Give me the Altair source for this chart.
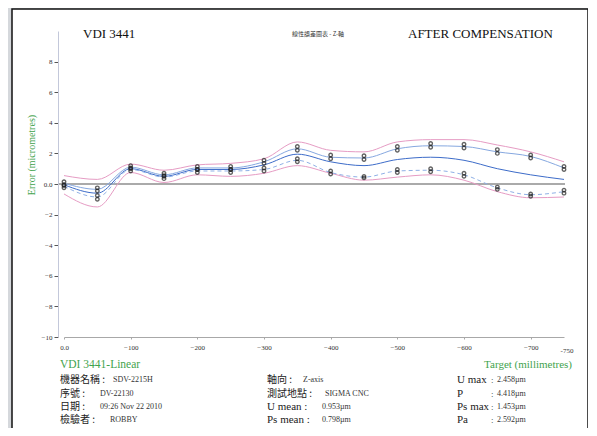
import altair as alt
import pandas as pd

# ---- data ----
positions = [0, -50, -100, -150, -200, -250, -300, -350, -400, -450, -500, -550, -600, -650, -700, -750]
mean_err = [-0.05, -0.6, 1.0, 0.5, 0.95, 0.95, 1.25, 1.95, 1.45, 1.2, 1.6, 1.75, 1.55, 1.0, 0.6, 0.3]
upper_mean = [0.05, -0.35, 1.1, 0.6, 1.05, 1.05, 1.45, 2.3, 1.75, 1.7, 2.3, 2.5, 2.45, 2.1, 1.8, 1.05]
lower_mean = [-0.15, -0.85, 0.95, 0.45, 0.85, 0.85, 0.95, 1.55, 0.75, 0.45, 0.85, 0.9, 0.6, -0.25, -0.7, -0.5]
env_upper = [0.55, 0.3, 1.3, 0.9, 1.25, 1.35, 1.65, 2.75, 2.2, 2.1, 2.75, 2.9, 2.9, 2.55, 2.1, 1.45]
env_lower = [-0.65, -1.5, 0.75, 0.1, 0.6, 0.5, 0.7, 1.2, 0.7, 0.25, 0.45, 0.6, 0.25, -0.5, -0.9, -0.85]

run_up_1 = [0.15, -0.25, 1.2, 0.7, 1.15, 1.15, 1.55, 2.45, 1.9, 1.85, 2.45, 2.65, 2.6, 2.25, 1.9, 1.15]
run_up_2 = [-0.05, -0.45, 1.0, 0.5, 0.95, 0.95, 1.35, 2.2, 1.65, 1.6, 2.2, 2.4, 2.35, 2.0, 1.7, 0.95]
run_dn_1 = [-0.1, -0.75, 1.05, 0.55, 0.95, 0.95, 1.05, 1.65, 0.85, 0.5, 0.95, 1.0, 0.7, -0.2, -0.65, -0.4]
run_dn_2 = [-0.25, -1.0, 0.85, 0.35, 0.75, 0.75, 0.85, 1.45, 0.65, 0.4, 0.75, 0.8, 0.5, -0.35, -0.8, -0.6]

y_ticks = [-10, -8, -6, -4, -2, 0, 2, 4, 6, 8]
x_ticks = [0, -100, -200, -300, -400, -500, -600, -700]
x_end_label = [-750]

W, H = 500, 306
SERIF = "Liberation Serif"
CJK = "Noto Sans CJK TC"
GREEN = "#3fa34d"

line_series = [
    ("env_up", env_upper), ("env_lo", env_lower),
    ("upper", upper_mean), ("mean", mean_err),
]
line_df = pd.DataFrame([
    {"pos": p, "err": v, "series": name}
    for name, vals in line_series for p, v in zip(positions, vals)
])
lower_df = pd.DataFrame({"pos": positions, "err": lower_mean})
pts_df = pd.DataFrame([
    {"pos": p, "err": v, "run": name}
    for name, vals in [("u1", run_up_1), ("u2", run_up_2), ("d1", run_dn_1), ("d2", run_dn_2)]
    for p, v in zip(positions, vals)
])

xscale = alt.Scale(domain=[0, -750], nice=False, zero=False)
yscale = alt.Scale(domain=[-10, 10], nice=False)

x_axis = alt.Axis(
    values=x_ticks, labelExpr="datum.value == 0 ? '0.0' : datum.label",
    title=None, grid=False, labelFont=SERIF, labelFontSize=7, labelColor="#333",
    domainColor="#a8a8a8", domainWidth=1, tickColor="#a8a8a8", tickSize=2,
    labelPadding=4, format="d", zindex=2, labelOverlap=False, labelFlush=False)
y_axis = alt.Axis(
    values=y_ticks, labelExpr="datum.value == 0 ? '0.0' : datum.label",
    title=None, grid=False, offset=6, labelFont=SERIF, labelFontSize=7, labelColor="#333",
    domainColor="#c3c8da", domainWidth=1, tickColor="#555", tickSize=4, labelPadding=2,
    format="d", zindex=2, labelOverlap=False, labelFlush=False)


def X(f="pos:Q"):
    return alt.X(f, scale=xscale, axis=x_axis)


def Y(f="err:Q"):
    return alt.Y(f, scale=yscale, axis=y_axis)


one = pd.DataFrame({"a": [0]})

frame = alt.Chart(one).mark_rect(fill="white", stroke="#111", strokeWidth=1.5).encode(
    x=alt.value(-52), x2=alt.value(524), y=alt.value(-22), y2=alt.value(420))

zero_line = alt.Chart(pd.DataFrame({"err": [0]})).mark_rule(color="#8e8e8e", strokeWidth=1.5).encode(
    y=Y(), x=alt.value(-6), x2=alt.value(501))

lines = alt.Chart(line_df).mark_line(interpolate="monotone").encode(
    x=X(), y=Y(),
    color=alt.Color("series:N", legend=None, scale=alt.Scale(
        domain=["env_up", "env_lo", "upper", "mean"],
        range=["#e69cc4", "#e69cc4", "#86a8e0", "#3d6cc9"])),
    strokeWidth=alt.StrokeWidth("series:N", legend=None, scale=alt.Scale(
        domain=["env_up", "env_lo", "upper", "mean"], range=[1, 1, 1, 1.6])),
    detail="series:N",
)
lower_line = alt.Chart(lower_df).mark_line(interpolate="monotone", color="#8fb0e6",
                                           strokeWidth=1, strokeDash=[4, 3]).encode(
    x=X(), y=Y())

points = alt.Chart(pts_df).mark_point(shape="circle", filled=False, size=12,
                                      color="#222", strokeWidth=1.4).encode(
    x=X(), y=Y())

end_lbl = alt.Chart(pd.DataFrame({"pos": x_end_label, "t": ["-750"]})).mark_text(
    font=SERIF, fontSize=7, color="#333", dx=3).encode(
    x=X(), y=alt.value(320), text="t:N")


def texts(rows, **kw):
    out = []
    for t, px, py in rows:
        out.append(alt.Chart(one).mark_text(text=t, baseline="middle", **kw).encode(
            x=alt.value(px), y=alt.value(py)))
    return out


t_titles = texts([("VDI 3441", 19, 3), ("AFTER COMPENSATION", 344, 3)],
                 font=SERIF, fontSize=13, color="#111", align="left")
t_small = texts([("線性誤差圖表 - Z-軸", 254, 3)], font=CJK, fontSize=6, color="#333", align="center")
t_green_l = texts([("VDI 3441-Linear", -4, 334)], font=SERIF, fontSize=11.5, color=GREEN, align="left")
t_green_r = texts([("Target (millimetres)", 508, 334)], font=SERIF, fontSize=11, color=GREEN, align="right")
t_ytitle = texts([("Error (micrometres)", -32, 124)], font=SERIF, fontSize=10, color=GREEN,
                 align="center", angle=270)

rows_y = [349, 362.5, 376, 389]
t_cjk = texts([("機器名稱 :", -4, rows_y[0]), ("序號 :", -4, rows_y[1]), ("日期 :", -4, rows_y[2]),
               ("檢驗者 :", -4, rows_y[3]), ("軸向 :", 203, rows_y[0]), ("測試地點 :", 203, rows_y[1])],
              font=CJK, fontSize=10, color="#222", align="left")
t_lab = texts([("U mean :", 203, rows_y[2]), ("Ps mean :", 203, rows_y[3]),
               ("U max", 393, rows_y[0]), ("P", 393, rows_y[1]), ("Ps max", 393, rows_y[2]),
               ("Pa", 393, rows_y[3])],
              font=SERIF, fontSize=11, color="#222", align="left")
t_col = texts([(":", 427, y) for y in rows_y], font=SERIF, fontSize=9, color="#333", align="left")
t_vals = texts([("SDV-2215H", 49, rows_y[0]), ("DV-22130", 36, rows_y[1]),
                ("09:26  Nov  22  2010", 36, rows_y[2]), ("ROBBY", 46, rows_y[3]),
                ("Z-axis", 239, rows_y[0]), ("SIGMA CNC", 261, rows_y[1]),
                ("0.953µm", 258, rows_y[2]), ("0.798µm", 258, rows_y[3]),
                ("2.458µm", 433, rows_y[0]), ("4.418µm", 433, rows_y[1]),
                ("1.453µm", 433, rows_y[2]), ("2.592µm", 433, rows_y[3])],
               font=SERIF, fontSize=8, color="#333", align="left")

all_texts = t_titles + t_small + t_green_l + t_green_r + t_ytitle + t_cjk + t_lab + t_col + t_vals

chart = alt.layer(
    frame, zero_line, lines, lower_line, points, end_lbl, *all_texts
).resolve_scale(color="independent").properties(
    width=W, height=H,
    autosize=alt.AutoSizeParams(type="none"),
    padding={"left": 56, "top": 23, "right": 24, "bottom": 91},
).configure(background="#d5d8dc").configure_view(strokeWidth=0).configure_axis(
    labelOverlap=False, labelFlush=False)

chart.save("out.html", embed_options={"renderer": "svg", "actions": False})
